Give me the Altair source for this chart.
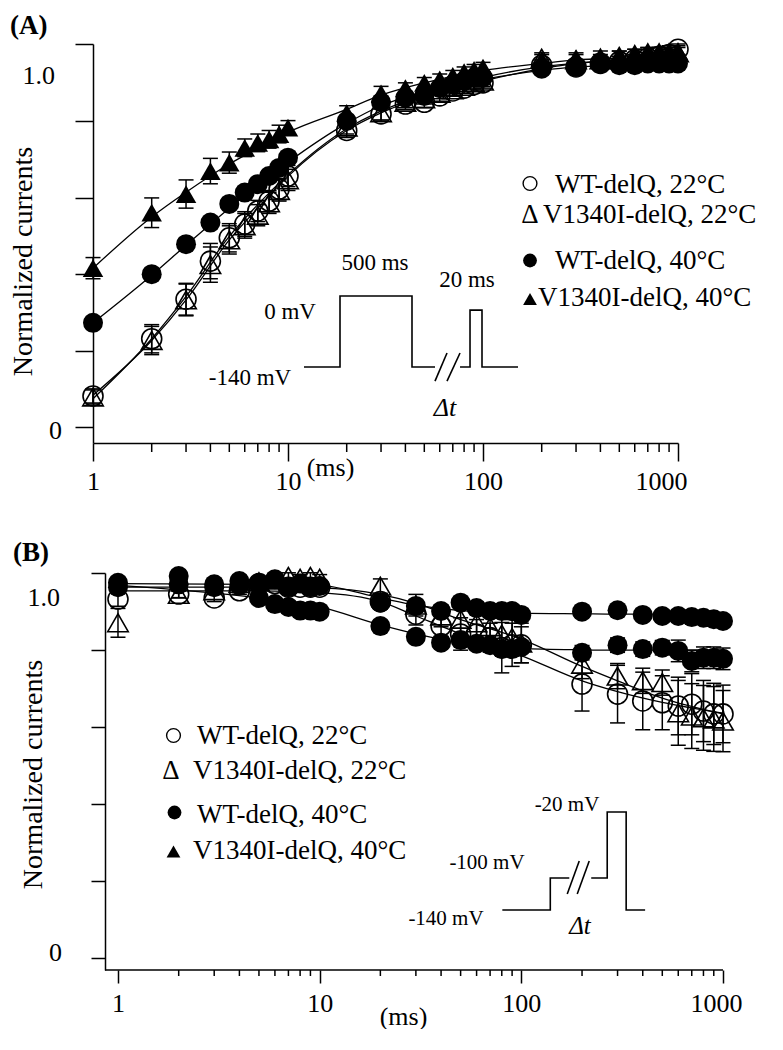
import altair as alt
import pandas as pd

FONT = "Liberation Serif"

# ---------------- Panel A : recovery ----------------
tA = [1, 2, 3, 4, 5, 6, 7, 8, 9, 10, 20, 30, 40, 50, 60, 70, 80, 90, 100,
      200, 300, 400, 500, 600, 700, 800, 900, 1000]
a_wt22 = [0.088, 0.25, 0.362, 0.47, 0.536, 0.575, 0.612, 0.64, 0.674, 0.711,
          0.84, 0.887, 0.915, 0.92, 0.938, 0.952, 0.96, 0.97, 0.975,
          1.025, 1.02, 1.03, 1.035, 1.04, 1.045, 1.05, 1.055, 1.07]
a_wt22_err = [0.02, 0.04, 0.045, 0.05, 0.04, 0.035, 0.03, 0.03, 0.03, 0.03,
              0.02, 0.02, 0.015, 0.015, 0.015, 0.015, 0.015, 0.015, 0.015,
              0.015, 0.015, 0.015, 0.015, 0.015, 0.015, 0.015, 0.015, 0.015]
a_v22 = [0.085, 0.245, 0.36, 0.46, 0.53, 0.57, 0.60, 0.635, 0.67, 0.70,
         0.85, 0.89, 0.92, 0.93, 0.945, 0.955, 0.965, 0.975, 0.98,
         1.045, 1.04, 1.04, 1.05, 1.055, 1.06, 1.06, 1.055, 1.06]
a_v22_err = [0.02, 0.04, 0.045, 0.05, 0.04, 0.035, 0.03, 0.03, 0.03, 0.03,
             0.02, 0.02, 0.015, 0.015, 0.015, 0.015, 0.015, 0.015, 0.015,
             0.015, 0.015, 0.015, 0.015, 0.015, 0.015, 0.015, 0.015, 0.015]
a_wt40 = [0.295, 0.433, 0.518, 0.579, 0.632, 0.664, 0.688, 0.711, 0.734, 0.763,
          0.867, 0.92, 0.933, 0.938, 0.96, 0.97, 0.98, 0.99, 0.99,
          1.015, 1.02, 1.03, 1.025, 1.025, 1.03, 1.03, 1.03, 1.03]
a_wt40_err = [0.015] * 28
a_v40 = [0.45, 0.607, 0.66, 0.725, 0.749, 0.791, 0.805, 0.815, 0.83, 0.848,
         0.89, 0.945, 0.96, 0.975, 0.985, 0.995, 1.005, 1.012, 1.018,
         1.04, 1.045, 1.05, 1.05, 1.055, 1.06, 1.06, 1.065, 1.065]
a_v40_err = [0.03, 0.042, 0.04, 0.036, 0.03, 0.025, 0.025, 0.025, 0.025, 0.02,
             0.02, 0.02, 0.015, 0.015, 0.015, 0.015, 0.015, 0.015, 0.015,
             0.015, 0.015, 0.015, 0.015, 0.015, 0.015, 0.015, 0.015, 0.015]

# fitted curves
fitA_t = [1, 2, 3, 5, 7, 10, 20, 30, 50, 100, 200, 300, 500, 1000]
fitA_wt22 = [0.09, 0.245, 0.36, 0.53, 0.62, 0.71, 0.84, 0.89, 0.935, 0.98, 1.015, 1.03, 1.04, 1.045]
fitA_v22 = [0.08, 0.25, 0.37, 0.54, 0.63, 0.715, 0.845, 0.895, 0.94, 0.99, 1.02, 1.03, 1.04, 1.05]
fitA_wt40 = [0.295, 0.43, 0.515, 0.62, 0.685, 0.75, 0.86, 0.91, 0.95, 0.985, 1.01, 1.02, 1.025, 1.03]
fitA_v40 = [0.45, 0.595, 0.665, 0.745, 0.79, 0.835, 0.9, 0.94, 0.975, 1.01, 1.03, 1.04, 1.045, 1.05]

# pulse-protocol inset (in axis units)
waveA_seg = [0, 0, 0, 0, 0, 0, 1, 1, 1, 1, 1, 1, 2, 2, 3, 3]
waveA_t = [12.08, 18.48, 18.48, 43.24, 43.24, 56.74,
           76.24, 85.79, 85.79, 98.83, 98.83, 151.2,
           56.74, 65.37, 65.37, 76.24]
waveA_v = [0.170, 0.170, 0.371, 0.371, 0.170, 0.170,
           0.170, 0.170, 0.331, 0.331, 0.170, 0.170,
           0.130, 0.2096, 0.130, 0.2096]

# ---------------- Panel B : inactivation ----------------
tB = tA
b_wt22 = [0.997, 1.011, 1.0, 1.02, 1.04, 1.04, 1.03, 1.03, 1.03, 1.03,
          0.99, 0.955, 0.922, 0.9, 0.9, 0.89, 0.862, 0.87, 0.87,
          0.761, 0.733, 0.714, 0.709, 0.70, 0.705, 0.686, 0.678, 0.678]
b_wt22_err = [0.02, 0.01, 0.01, 0.01, 0.01, 0.01, 0.01, 0.01, 0.01, 0.01,
              0.02, 0.03, 0.03, 0.045, 0.04, 0.04, 0.07, 0.06, 0.05,
              0.075, 0.08, 0.08, 0.075, 0.08, 0.085, 0.085, 0.085, 0.08]
b_v22 = [0.931, 1.01, 1.02, 1.04, 1.045, 1.05, 1.06, 1.055, 1.06, 1.055,
         1.033, 0.98, 0.95, 0.941, 0.931, 0.92, 0.9, 0.89, 0.875,
         0.816, 0.783, 0.77, 0.765, 0.681, 0.672, 0.667, 0.664, 0.658]
b_v22_err = [0.04, 0.01, 0.01, 0.01, 0.01, 0.01, 0.01, 0.01, 0.01, 0.01,
             0.02, 0.03, 0.03, 0.04, 0.04, 0.04, 0.045, 0.05, 0.055,
             0.04, 0.035, 0.035, 0.035, 0.09, 0.09, 0.09, 0.09, 0.085]
b_wt40 = [1.042, 1.061, 1.038, 1.047, 1.04, 1.052, 1.03, 1.04, 1.03, 1.033,
          0.987, 0.978, 0.964, 0.987, 0.972, 0.964, 0.964, 0.964, 0.953,
          0.962, 0.966, 0.953, 0.95, 0.95, 0.947, 0.945, 0.941, 0.936]
b_wt40_err = [0.015] * 28
b_v40 = [1.03, 1.038, 1.03, 1.035, 1.0, 0.983, 0.975, 0.965, 0.965, 0.962,
         0.922, 0.892, 0.876, 0.883, 0.873, 0.869, 0.858, 0.858, 0.864,
         0.848, 0.869, 0.858, 0.862, 0.853, 0.825, 0.834, 0.834, 0.831]
b_v40_err = [0.015] * 19 + [0.02, 0.02, 0.02, 0.02, 0.03, 0.03, 0.03, 0.03, 0.03]

fitB_t = [1, 5, 10, 20, 30, 50, 100, 200, 300, 500, 1000]
fitB_wt22 = [1.02, 1.02, 1.015, 0.99, 0.95, 0.9, 0.84, 0.77, 0.74, 0.71, 0.68]
fitB_v22 = [1.03, 1.03, 1.028, 1.01, 0.985, 0.94, 0.886, 0.81, 0.77, 0.722, 0.678]
fitB_wt40 = [1.04, 1.038, 1.035, 1.0, 0.98, 0.965, 0.958, 0.956, 0.955, 0.955, 0.955]
fitB_v40 = [1.035, 1.0, 0.975, 0.925, 0.9, 0.875, 0.86, 0.856, 0.855, 0.855, 0.855]

waveB_seg = [0, 0, 0, 0, 1, 1, 1, 1, 1, 1, 2, 2, 3, 3]
waveB_t = [80.5, 139.2, 139.2, 172.9,
           222.1, 266.6, 266.6, 331.0, 331.0, 411.0,
           168.9, 193.7, 189.3, 217.1]
waveB_v = [0.1333, 0.1333, 0.2222, 0.2222,
           0.2222, 0.2222, 0.4056, 0.4056, 0.1333, 0.1333,
           0.1778, 0.2694, 0.1778, 0.2694]

legend_labels = ["WT-delQ, 22°C", "V1340I-delQ, 22°C", "WT-delQ, 40°C", "V1340I-delQ, 40°C"]
major_ticks = [1, 10, 100, 1000]
minor_ticks = [2, 3, 4, 5, 6, 7, 8, 9, 20, 30, 40, 50, 60, 70, 80, 90,
               200, 300, 400, 500, 600, 700, 800, 900]


def txt(s, x, y, size, align="center", baseline="middle", style="normal", weight="normal"):
    return alt.Chart(pd.DataFrame({"s": [s]})).mark_text(
        font=FONT, fontSize=size, align=align, baseline=baseline,
        fontStyle=style, fontWeight=weight, color="black"
    ).encode(text="s:N", x=alt.value(x), y=alt.value(y))


def sym(shape, filled, x, y, size):
    return alt.Chart(pd.DataFrame({"s": [0]})).mark_point(
        shape=shape, filled=filled, size=size, color="black", opacity=1, strokeWidth=1.4
    ).encode(x=alt.value(x), y=alt.value(y))


def panel(cfg):
    W, H = cfg["W"], cfg["H"]
    sx = cfg["xshift"]  # pixel position of the y axis inside the plot area
    xs = alt.Scale(type="log", domain=cfg["xdom"], nice=False)
    ys = alt.Scale(domain=cfg["ydom"], nice=False, zero=False)

    xaxis = alt.Axis(values=major_ticks, format="d", tickSize=cfg["major"], tickWidth=1.5,
                     domain=(sx == 0), domainWidth=1.5, domainColor="black", tickColor="black",
                     labelFont=FONT, labelFontSize=26, labelColor="black",
                     labelPadding=cfg["lpad"], labelFlush=False, grid=False,
                     labelOffset={"condition": {"test": "datum.value >= 1000",
                                                "value": cfg["last_off"]}, "value": 0},
                     title="(ms)", titleFont=FONT, titleFontSize=26, titleFontWeight="normal",
                     titleColor="black", titleX=cfg["xtitle"][0], titleY=cfg["xtitle"][1],
                     titleAlign="center", titleBaseline="middle")
    yaxis = alt.Axis(values=cfg["yticks"], labels=False, tickSize=cfg["ytick"], tickWidth=1.5,
                     domainWidth=1.5, domainColor="black", tickColor="black", grid=False,
                     offset=-sx,
                     title="Normalized currents", titleFont=FONT, titleFontSize=28,
                     titleFontWeight="normal", titleColor="black", titleAngle=270,
                     titleX=cfg["ytitle"][0], titleY=cfg["ytitle"][1],
                     titleAlign="center", titleBaseline="middle")

    def X():
        return alt.X("t:Q", scale=xs, axis=xaxis)

    def Y(field="v"):
        return alt.Y(f"{field}:Q", scale=ys, axis=yaxis)

    layers = []
    # fitted lines
    fit_rows = []
    for name, vals in cfg["fits"]:
        for t, v in zip(cfg["fit_t"], vals):
            fit_rows.append({"t": t, "v": v, "series": name})
    layers.append(alt.Chart(pd.DataFrame(fit_rows)).mark_line(
        interpolate="monotone", color="black", strokeWidth=1.3
    ).encode(x=X(), y=Y(), detail="series:N"))

    # minor x ticks
    layers.append(alt.Chart(pd.DataFrame({"t": minor_ticks})).mark_rule(
        color="black", strokeWidth=1.5
    ).encode(x=X(), y=alt.value(H), y2=alt.value(H + cfg["minor"])))

    # x axis line when the y axis sits inside the plot area
    if sx:
        layers.append(alt.Chart(pd.DataFrame({"s": [0]})).mark_rule(
            color="black", strokeWidth=1.5
        ).encode(x=alt.value(sx), x2=alt.value(W), y=alt.value(H)))

    # pulse protocol
    layers.append(alt.Chart(pd.DataFrame({"t": cfg["wave_t"], "v": cfg["wave_v"],
                                          "seg": cfg["wave_seg"],
                                          "i": list(range(len(cfg["wave_t"])))})).mark_line(
        color="black", strokeWidth=1.6
    ).encode(x=X(), y=Y(), detail="seg:N", order="i:Q"))

    # error bars + points
    for s in cfg["series"]:
        df = pd.DataFrame({"t": cfg["t"], "v": s["v"], "e": s["e"]})
        df["lo"] = df["v"] - df["e"]
        df["hi"] = df["v"] + df["e"]
        base = alt.Chart(df)
        layers.append(base.mark_rule(color="black", strokeWidth=1.5).encode(
            x=X(), y=Y("lo"), y2="hi:Q"))
        layers.append(base.mark_tick(orient="horizontal", size=15, thickness=1.5,
                                     color="black", opacity=1).encode(x=X(), y=Y("lo")))
        layers.append(base.mark_tick(orient="horizontal", size=15, thickness=1.5,
                                     color="black", opacity=1).encode(x=X(), y=Y("hi")))
    for s in cfg["series"]:
        df = pd.DataFrame({"t": cfg["t"], "v": s["v"]})
        if s["filled"]:
            m = alt.Chart(df).mark_point(shape=s["shape"], filled=True, size=s["size"],
                                         color="black", opacity=1)
        else:
            m = alt.Chart(df).mark_point(shape=s["shape"], filled=False, size=s["size"],
                                         color="black", opacity=1, strokeWidth=1.6)
        layers.append(m.encode(x=X(), y=Y()))

    # y tick labels
    for lab, val, dx, dy in cfg["ylabels"]:
        layers.append(alt.Chart(pd.DataFrame({"s": [lab], "v": [val]})).mark_text(
            font=FONT, fontSize=26, align="right", baseline="middle", color="black", dy=dy
        ).encode(text="s:N", x=alt.value(dx + sx), y=Y()))

    # panel letter
    layers.append(txt(cfg["letter"], cfg["letter_xy"][0] + sx, cfg["letter_xy"][1], 27,
                      align="left", weight="bold"))

    # legend
    for (sh, filled), (lx, ly) in zip([("circle", False), (None, None), ("circle", True),
                                       ("triangle-up", True)], cfg["leg_sym"]):
        if sh is None:
            layers.append(txt("Δ", lx + sx, ly, 27, baseline="alphabetic"))
        else:
            layers.append(sym(sh, filled, lx + sx, ly, 190))
    for lab, (lx, ly) in zip(legend_labels, cfg["leg_txt"]):
        layers.append(txt(lab, lx + sx, ly, 27, align="left", baseline="alphabetic"))

    # inset labels
    for lab, (lx, ly), size, style in cfg["inset"]:
        layers.append(txt(lab, lx + sx, ly, size, style=style))

    return alt.layer(*layers).properties(width=W, height=H)


stepA = 76.5 / 353
cfgA = dict(
    W=585, H=399, xshift=0, xdom=[1, 1000], ydom=[-0.0453, 1.085],
    yticks=[round(k * stepA, 4) for k in range(6)], ytick=18, major=18, minor=9, lpad=7,
    last_off=-17,
    xtitle=(237, 24), ytitle=(-70, 217),
    fit_t=fitA_t,
    fits=[("wt22", fitA_wt22), ("v22", fitA_v22), ("wt40", fitA_wt40), ("v40", fitA_v40)],
    wave_t=waveA_t, wave_v=waveA_v, wave_seg=waveA_seg,
    t=tA,
    series=[
        dict(v=a_wt22, e=a_wt22_err, shape="circle", filled=False, size=400),
        dict(v=a_v22, e=a_v22_err, shape="triangle-up", filled=False, size=420),
        dict(v=a_wt40, e=a_wt40_err, shape="circle", filled=True, size=400),
        dict(v=a_v40, e=a_v40_err, shape="triangle-up", filled=True, size=420),
    ],
    ylabels=[("1.0", 1.0, -38, 2), ("0", 0.0, -31, 4)],
    letter="(A)", letter_xy=(-83, -18),
    leg_sym=[(437, 139.5), (437, 179), (437, 216.5), (437, 255)],
    leg_txt=[(462, 149), (450, 179), (462, 225), (445, 262)],
    inset=[("500 ms", (282, 219), 23, "normal"), ("20 ms", (374, 236), 23, "normal"),
           ("0  mV", (197, 268), 23, "normal"), ("-140 mV", (157, 334), 23, "normal"),
           ("Δt", (352, 364), 26, "italic")],
)

# panel B: plot area starts 12 px left of its y axis (axis drawn inward)
stepB = 77 / 360
cfgB = dict(
    W=630, H=397, xshift=12, xdom=[0.7518, 1000], ydom=[-0.0333, 1.0694],
    yticks=[round(k * stepB, 4) for k in range(6)], ytick=14, major=13, minor=6, lpad=7,
    last_off=-7,
    xtitle=(310, 46), ytitle=(-72, 201),
    fit_t=fitB_t,
    fits=[("wt22", fitB_wt22), ("v22", fitB_v22), ("wt40", fitB_wt40), ("v40", fitB_v40)],
    wave_t=waveB_t, wave_v=waveB_v, wave_seg=waveB_seg,
    t=tB,
    series=[
        dict(v=b_wt22, e=b_wt22_err, shape="circle", filled=False, size=400),
        dict(v=b_v22, e=b_v22_err, shape="triangle-up", filled=False, size=420),
        dict(v=b_wt40, e=b_wt40_err, shape="circle", filled=True, size=400),
        dict(v=b_v40, e=b_v40_err, shape="circle", filled=True, size=400),
    ],
    ylabels=[("1.0", 1.0, -45, 0), ("0", 0.0, -43, -5)],
    letter="(B)", letter_xy=(-92, -20),
    leg_sym=[(68.5, 162.5), (66, 206), (69.5, 239.5), (68.5, 278.5)],
    leg_txt=[(92, 171), (88, 206), (92, 250), (88, 286)],
    inset=[("-140 mV", (341, 346), 21, "normal"), ("-100 mV", (382, 290), 21, "normal"),
           ("-20 mV", (462, 232), 21, "normal"), ("Δt", (475, 353), 25, "italic")],
)

chartA = panel(cfgA)
chartB = panel(cfgB)

chart = alt.vconcat(chartA, chartB, spacing=45).properties(
    padding={"left": 1, "top": 4, "right": 0, "bottom": 0}
).configure_view(stroke=None)

chart.save("out.html", embed_options={"renderer": "svg", "actions": False})
